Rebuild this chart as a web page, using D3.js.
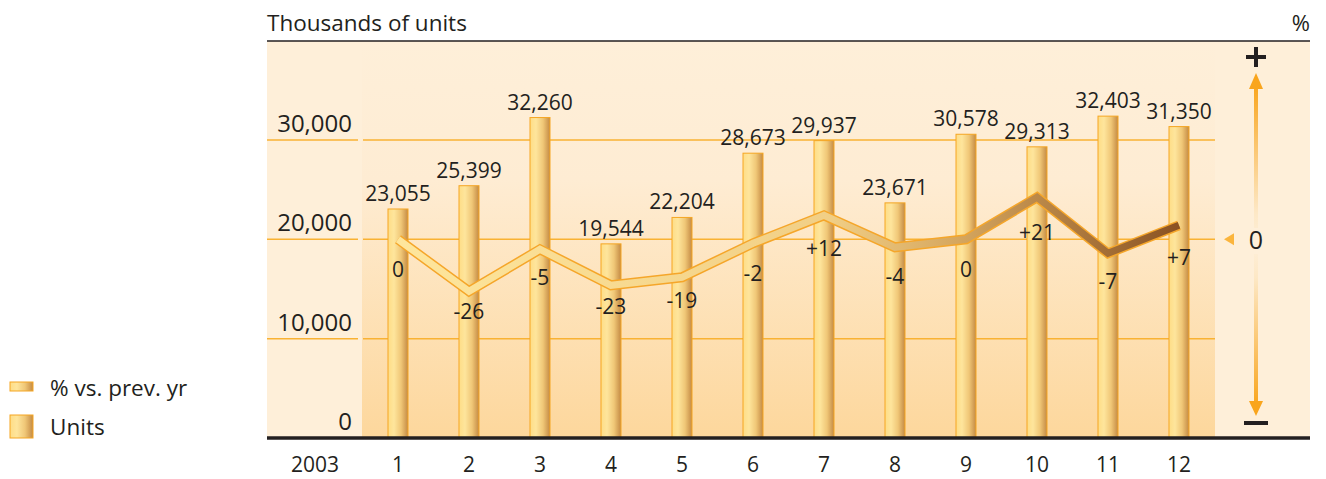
<!doctype html>
<html>
<head>
<meta charset="utf-8">
<title>Units 2003</title>
<script src="https://d3js.org/d3.v7.min.js"></script>
<style>
  body { margin: 0; background: #fff; }
  text { font-family: "Open Sans", sans-serif; fill: #231f20; }
</style>
</head>
<body>
<script>

// chart data
var months = ['1', '2', '3', '4', '5', '6', '7', '8', '9', '10', '11', '12'];
var units = [23055, 25399, 32260, 19544, 22204, 28673, 29937, 23671, 30578, 29313, 32403, 31350];
var pctChange = [0, -26, -5, -23, -19, -2, 12, -4, 0, 21, -7, 7];
var yTicks = [0, 10000, 20000, 30000];
var yearLabel = '2003';
var legendLabels = ['% vs. prev. yr', 'Units'];

var width = 1326, height = 479;
var plotLeft = 267, plotRight = 1310, plotTop = 41, plotBottom = 438;
var innerLeft = 362, innerRight = 1215;

var svg = d3.select('body').append('svg')
  .attr('width', width)
  .attr('height', height);

var defs = svg.append('defs');

// background gradient for inner area
var bg = defs.append('linearGradient').attr('id', 'bgGrad')
  .attr('x1', 0).attr('y1', 0).attr('x2', 0).attr('y2', 1);
bg.append('stop').attr('offset', '0%').attr('stop-color', '#feefd9');
bg.append('stop').attr('offset', '35%').attr('stop-color', '#feecd3');
bg.append('stop').attr('offset', '100%').attr('stop-color', '#fdd79c');

// bar gradient (cylinder look)
var barG = defs.append('linearGradient').attr('id', 'barGrad')
  .attr('x1', 0).attr('y1', 0).attr('x2', 1).attr('y2', 0);
barG.append('stop').attr('offset', '0%').attr('stop-color', '#fedd86');
barG.append('stop').attr('offset', '30%').attr('stop-color', '#fee59c');
barG.append('stop').attr('offset', '65%').attr('stop-color', '#f0c777');
barG.append('stop').attr('offset', '100%').attr('stop-color', '#c48a44');

// scales
var x = d3.scalePoint()
  .domain(months)
  .range([398, 1179]);

var y = d3.scaleLinear()
  .domain([0, 30000])
  .range([plotBottom, 140]);

var yPct = d3.scaleLinear()
  .domain([-26, 21])
  .range([y(20000) + 52, y(20000) - 42]);

// line gradient along x
var lineG = defs.append('linearGradient').attr('id', 'lineGrad')
  .attr('gradientUnits', 'userSpaceOnUse')
  .attr('x1', x('1')).attr('y1', 0).attr('x2', x('12')).attr('y2', 0);
lineG.append('stop').attr('offset', '0%').attr('stop-color', '#fee69c');
lineG.append('stop').attr('offset', '55%').attr('stop-color', '#f1cf86');
lineG.append('stop').attr('offset', '72%').attr('stop-color', '#d5a65e');
lineG.append('stop').attr('offset', '100%').attr('stop-color', '#8a5222');

// arrow gradient on the right
var arrG = defs.append('linearGradient').attr('id', 'arrGrad')
  .attr('x1', 0).attr('y1', 0).attr('x2', 0).attr('y2', 1);
arrG.append('stop').attr('offset', '0%').attr('stop-color', '#f9a51d');
arrG.append('stop').attr('offset', '40%').attr('stop-color', '#fde8c6');
arrG.append('stop').attr('offset', '50%').attr('stop-color', '#feefd9');
arrG.append('stop').attr('offset', '60%').attr('stop-color', '#fde8c6');
arrG.append('stop').attr('offset', '100%').attr('stop-color', '#f9a51d');

// backgrounds
svg.append('rect')
  .attr('x', plotLeft).attr('y', plotTop)
  .attr('width', plotRight - plotLeft).attr('height', plotBottom - plotTop)
  .attr('fill', '#feefd9');

svg.append('rect')
  .attr('x', innerLeft).attr('y', plotTop)
  .attr('width', innerRight - innerLeft).attr('height', plotBottom - plotTop)
  .attr('fill', 'url(#bgGrad)');

// gridlines (with a small gap after the label column)
yTicks.filter(function(d) { return d > 0; }).forEach(function(t) {
  svg.append('line')
    .attr('x1', plotLeft).attr('x2', 358)
    .attr('y1', y(t)).attr('y2', y(t))
    .attr('stroke', '#f9b233').attr('stroke-width', 1.5);
  svg.append('line')
    .attr('x1', 363).attr('x2', innerRight)
    .attr('y1', y(t)).attr('y2', y(t))
    .attr('stroke', '#f9b233').attr('stroke-width', 1.5);
});

// y tick labels
svg.selectAll('.ylab')
  .data(yTicks)
  .enter().append('text')
  .attr('x', 352)
  .attr('y', function(d) { return y(d) - 8; })
  .attr('text-anchor', 'end')
  .attr('font-size', 24)
  .text(function(d) { return d3.format(',')(d); });

// bars
var barW = 20;
svg.selectAll('.bar')
  .data(units)
  .enter().append('rect')
  .attr('x', function(d, i) { return x(months[i]) - barW / 2; })
  .attr('y', function(d) { return y(d); })
  .attr('width', barW)
  .attr('height', function(d) { return plotBottom - y(d); })
  .attr('fill', 'url(#barGrad)')
  .attr('stroke', '#f5a623')
  .attr('stroke-width', 1);

// value labels above bars
svg.selectAll('.vlab')
  .data(units)
  .enter().append('text')
  .attr('x', function(d, i) { return x(months[i]); })
  .attr('y', function(d) { return y(d) - 8; })
  .attr('text-anchor', 'middle')
  .attr('font-size', 21)
  .text(function(d) { return d3.format(',')(d); });

// percentage ribbon line
var line = d3.line()
  .x(function(d, i) { return x(months[i]); })
  .y(function(d) { return yPct(d); });

svg.append('path')
  .datum(pctChange)
  .attr('d', line)
  .attr('fill', 'none')
  .attr('stroke', '#f5a62a')
  .attr('stroke-width', 10)
  .attr('stroke-linejoin', 'miter');

svg.append('path')
  .datum(pctChange)
  .attr('d', line)
  .attr('fill', 'none')
  .attr('stroke', 'url(#lineGrad)')
  .attr('stroke-width', 7)
  .attr('stroke-linejoin', 'miter');

// percentage labels
svg.selectAll('.plab')
  .data(pctChange)
  .enter().append('text')
  .attr('x', function(d, i) { return x(months[i]); })
  .attr('y', function(d) {
    var off = d < 0 ? 30 + 0.4 * d : 30 + 0.2 * d;
    return yPct(d) + off + 8;
  })
  .attr('text-anchor', 'middle')
  .attr('font-size', 21)
  .text(function(d) { return d > 0 ? '+' + d : String(d); });

// top rule and bottom axis
svg.append('line')
  .attr('x1', plotLeft).attr('x2', plotRight)
  .attr('y1', plotTop).attr('y2', plotTop)
  .attr('stroke', '#231f20').attr('stroke-width', 1.5);

svg.append('line')
  .attr('x1', plotLeft).attr('x2', plotRight)
  .attr('y1', plotBottom).attr('y2', plotBottom)
  .attr('stroke', '#231f20').attr('stroke-width', 3.5);

// x labels
svg.append('text')
  .attr('x', 315).attr('y', 472)
  .attr('text-anchor', 'middle')
  .attr('font-size', 21)
  .text(yearLabel);

svg.selectAll('.xlab')
  .data(months)
  .enter().append('text')
  .attr('x', function(d) { return x(d); })
  .attr('y', 472)
  .attr('text-anchor', 'middle')
  .attr('font-size', 21)
  .text(function(d) { return d; });

// titles
svg.append('text')
  .attr('x', plotLeft).attr('y', 31)
  .attr('font-size', 22.5)
  .text('Thousands of units');

svg.append('text')
  .attr('x', plotRight).attr('y', 31)
  .attr('text-anchor', 'end')
  .attr('font-size', 22)
  .text('%');

// right-hand % indicator
var ax = 1256;
svg.append('rect')
  .attr('x', ax - 2).attr('y', 84)
  .attr('width', 4).attr('height', 322)
  .attr('fill', 'url(#arrGrad)');
svg.append('path')
  .attr('d', 'M' + (ax - 7) + ',89 L' + ax + ',73 L' + (ax + 7) + ',89 Z')
  .attr('fill', '#f9a51d');
svg.append('path')
  .attr('d', 'M' + (ax - 7) + ',401 L' + ax + ',416 L' + (ax + 7) + ',401 Z')
  .attr('fill', '#f9a51d');
svg.append('rect')
  .attr('x', ax - 12).attr('y', 228)
  .attr('width', 24).attr('height', 26)
  .attr('fill', '#feefd9');
svg.append('text')
  .attr('x', ax).attr('y', 249)
  .attr('text-anchor', 'middle')
  .attr('font-size', 25)
  .text('0');
svg.append('path')
  .attr('d', 'M1224,' + y(20000) + ' L1234,' + (y(20000) - 6) + ' L1234,' + (y(20000) + 6) + ' Z')
  .attr('fill', '#fbb53d');
// plus and minus
svg.append('rect').attr('x', ax - 10).attr('y', 55).attr('width', 20).attr('height', 4).attr('fill', '#231f20');
svg.append('rect').attr('x', ax - 2).attr('y', 47).attr('width', 4).attr('height', 20).attr('fill', '#231f20');
svg.append('rect').attr('x', ax - 12).attr('y', 421).attr('width', 24).attr('height', 4).attr('fill', '#231f20');

// legend
var leg = svg.append('g');
leg.append('rect')
  .attr('x', 10).attr('y', 382).attr('width', 23).attr('height', 9)
  .attr('fill', 'url(#barGrad)').attr('stroke', '#f5a623');
leg.append('rect')
  .attr('x', 10).attr('y', 415).attr('width', 23).attr('height', 23)
  .attr('fill', 'url(#barGrad)').attr('stroke', '#f5a623');
leg.selectAll('.ltxt')
  .data(legendLabels)
  .enter().append('text')
  .attr('x', 50)
  .attr('y', function(d, i) { return 396 + i * 39; })
  .attr('font-size', 22.5)
  .text(function(d) { return d; });

</script>
</body>
</html>
